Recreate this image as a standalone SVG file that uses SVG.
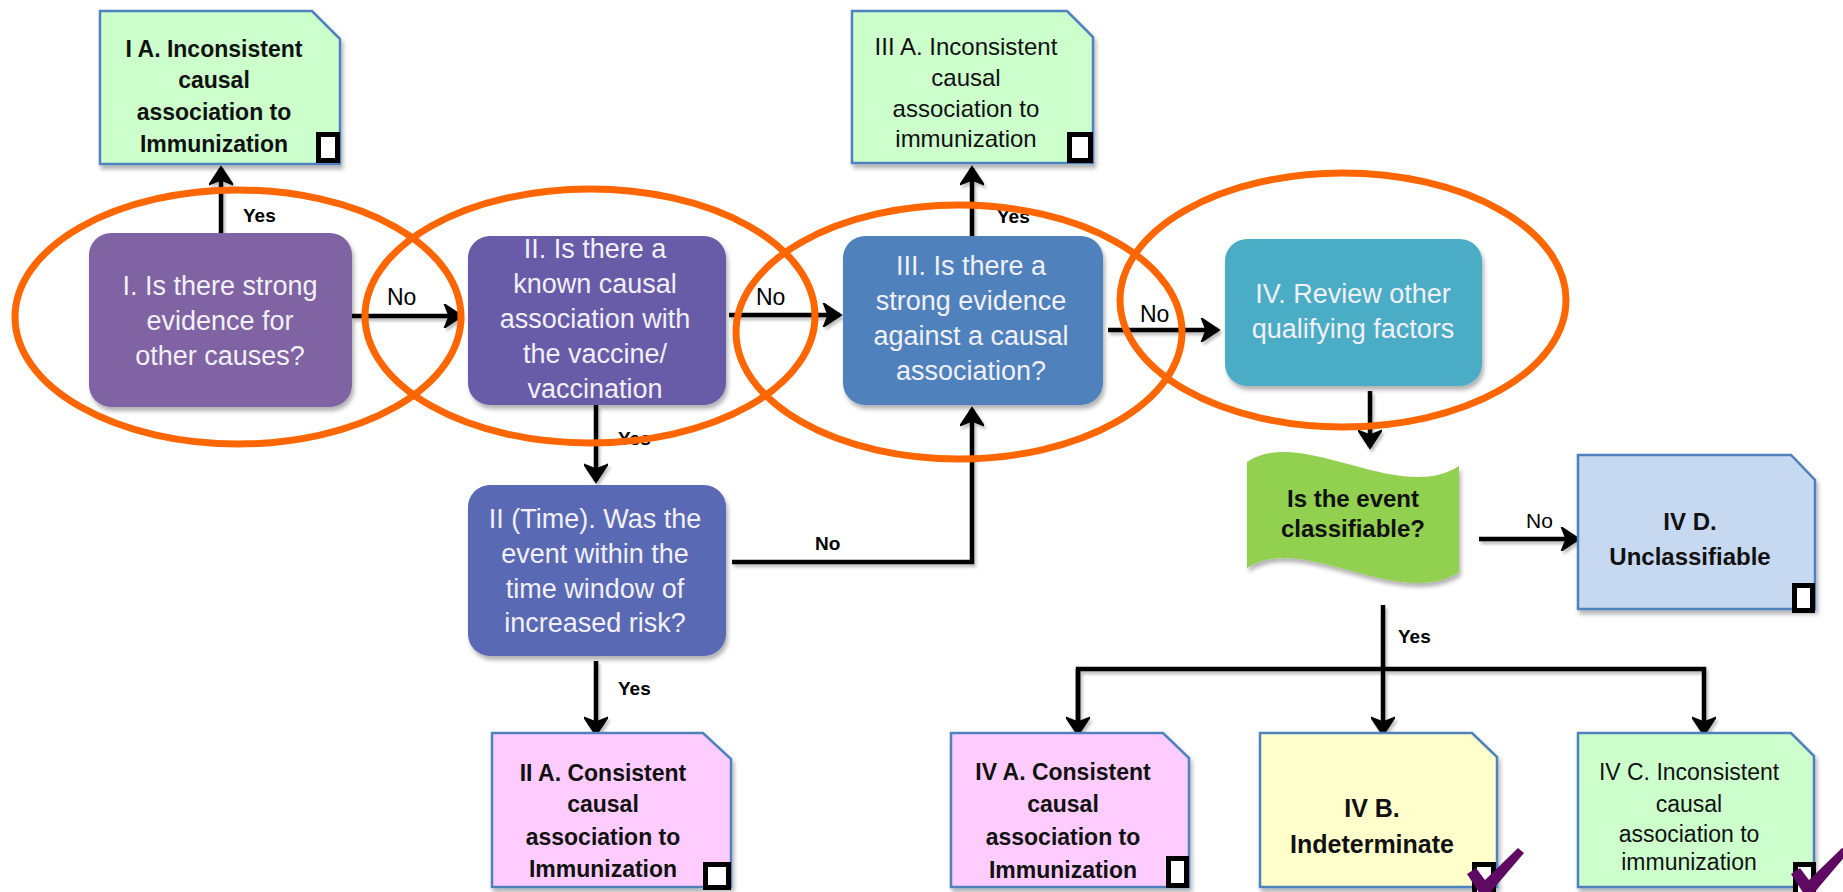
<svg xmlns="http://www.w3.org/2000/svg" width="1843" height="892" viewBox="0 0 1843 892">
  <style>
    .q { font-family: "Liberation Sans", Arial, sans-serif; font-size: 27px; fill: #f1f0f6; text-anchor: middle; }
    .leaf { font-family: "Liberation Sans", Arial, sans-serif; font-size: 23px; font-weight: bold; fill: #111; text-anchor: middle; }
    .leafn { font-family: "Liberation Sans", Arial, sans-serif; font-size: 23px; fill: #111; text-anchor: middle; }
    .lbl { font-family: "Liberation Sans", Arial, sans-serif; font-size: 19px; font-weight: bold; fill: #000; }
    .lno { font-family: "Liberation Sans", Arial, sans-serif; font-size: 23px; fill: #000; }
    .edge { fill: none; stroke: #000; stroke-width: 4.5; }
    .note { stroke: #4F81BD; stroke-width: 2.5; }
    .chk { fill: #fff; stroke: #000; stroke-width: 5; }
    .tick { fill: #5E0A63; }
    .ring { fill: none; stroke: #FF6600; stroke-width: 7; }
  </style>
  <defs>
    <marker id="arr" viewBox="0 0 24 24" markerUnits="userSpaceOnUse" markerWidth="24" markerHeight="24" refX="20" refY="12" orient="auto">
      <path d="M5,2 L20,12 L5,22 L9,12 Z" fill="#000" stroke="#000" stroke-width="3" stroke-linejoin="miter"/>
    </marker>
    <filter id="sh" x="-10%" y="-10%" width="130%" height="130%">
      <feDropShadow dx="2" dy="4" stdDeviation="2" flood-color="#000" flood-opacity="0.3"/>
    </filter>
    <filter id="lsh" x="-5%" y="-5%" width="110%" height="120%">
      <feDropShadow dx="2" dy="3" stdDeviation="1.5" flood-color="#000" flood-opacity="0.25"/>
    </filter>
  </defs>

  <rect width="1843" height="892" fill="#fff"/>

  <!-- connectors -->
  <g id="connectors" filter="url(#lsh)">
    <path class="edge" d="M221,233 V168" marker-end="url(#arr)"/>
    <path class="edge" d="M352,316 H461" marker-end="url(#arr)"/>
    <path class="edge" d="M729,315 H840" marker-end="url(#arr)"/>
    <path class="edge" d="M972,236 V168" marker-end="url(#arr)"/>
    <path class="edge" d="M1108,330 H1218" marker-end="url(#arr)"/>
    <path class="edge" d="M1370,391 V447" marker-end="url(#arr)"/>
    <path class="edge" d="M596,405 V481" marker-end="url(#arr)"/>
    <path class="edge" d="M732,562 H972 V409" marker-end="url(#arr)"/>
    <path class="edge" d="M596,661 V734" marker-end="url(#arr)"/>
    <path class="edge" d="M1479,539 H1578" marker-end="url(#arr)"/>
    <path class="edge" d="M1383,605 V669"/>
    <path class="edge" d="M1078,734 V669 H1704 V734" marker-end="url(#arr)"/>
    <path class="edge" d="M1078,669 V734" marker-end="url(#arr)"/>
    <path class="edge" d="M1383,669 V734" marker-end="url(#arr)"/>
  </g>

  <!-- connector labels -->
  <g id="labels">
    <text class="lbl" x="243" y="222">Yes</text>
    <text class="lno" x="387" y="305">No</text>
    <text class="lno" x="756" y="305">No</text>
    <text class="lbl" x="997" y="223">Yes</text>
    <text class="lno" x="1140" y="322">No</text>
    <text class="lbl" x="618" y="445">Yes</text>
    <text class="lbl" x="815" y="550">No</text>
    <text class="lbl" x="618" y="695">Yes</text>
    <text class="lno" x="1526" y="528" style="font-size:21px">No</text>
    <text class="lbl" x="1398" y="643">Yes</text>
  </g>

  <!-- decision boxes -->
  <g id="q1">
    <rect x="89" y="233" width="263" height="174" rx="22" fill="#8064A2" filter="url(#sh)"/>
    <text class="q" x="220" y="295">I. Is there strong</text>
    <text class="q" x="220" y="330">evidence for</text>
    <text class="q" x="220" y="365">other causes?</text>
  </g>
  <g id="q2">
    <rect x="468" y="236" width="258" height="169" rx="22" fill="#675BA8" filter="url(#sh)"/>
    <text class="q" x="595" y="258">II. Is there a</text>
    <text class="q" x="595" y="293">known causal</text>
    <text class="q" x="595" y="328">association with</text>
    <text class="q" x="595" y="363">the vaccine/</text>
    <text class="q" x="595" y="398">vaccination</text>
  </g>
  <g id="q3">
    <rect x="843" y="236" width="260" height="169" rx="22" fill="#4F81BD" filter="url(#sh)"/>
    <text class="q" x="971" y="275">III. Is there a</text>
    <text class="q" x="971" y="310">strong evidence</text>
    <text class="q" x="971" y="345">against a causal</text>
    <text class="q" x="971" y="380">association?</text>
  </g>
  <g id="q4">
    <rect x="1225" y="239" width="257" height="147" rx="22" fill="#4BACC6" filter="url(#sh)"/>
    <text class="q" x="1353" y="303">IV. Review other</text>
    <text class="q" x="1353" y="338">qualifying factors</text>
  </g>
  <g id="q2time">
    <rect x="468" y="485" width="258" height="171" rx="22" fill="#5A69B4" filter="url(#sh)"/>
    <text class="q" x="595" y="528">II (Time). Was the</text>
    <text class="q" x="595" y="563">event within the</text>
    <text class="q" x="595" y="598">time window of</text>
    <text class="q" x="595" y="632">increased risk?</text>
  </g>
  <g id="classifiable">
    <path d="M1247,462 C1300,425 1400,505 1459,466 V572 C1400,611 1300,531 1247,568 Z" fill="#92D050" filter="url(#sh)"/>
    <text class="leaf" x="1353" y="507" style="font-size:24px">Is the event</text>
    <text class="leaf" x="1353" y="537" style="font-size:24px">classifiable?</text>
  </g>

  <!-- outcome notes -->
  <g id="iA">
    <path class="note" d="M100,11 H312 L340,39 V164 H100 Z" fill="#CCFFCC" filter="url(#sh)"/>
    <text class="leaf" x="214" y="57">I A. Inconsistent</text>
    <text class="leaf" x="214" y="88">causal</text>
    <text class="leaf" x="214" y="120">association to</text>
    <text class="leaf" x="214" y="152">Immunization</text>
    <rect class="chk" x="318.5" y="134.5" width="19" height="26"/>
  </g>
  <g id="iiiA">
    <path class="note" d="M852,11 H1067 L1093,37 V163 H852 Z" fill="#CCFFCC" filter="url(#sh)"/>
    <text class="leafn" x="966" y="55" style="font-size:24px">III A. Inconsistent</text>
    <text class="leafn" x="966" y="86" style="font-size:24px">causal</text>
    <text class="leafn" x="966" y="117" style="font-size:24px">association to</text>
    <text class="leafn" x="966" y="147" style="font-size:24px">immunization</text>
    <rect class="chk" x="1069.5" y="134.5" width="21" height="26"/>
  </g>
  <g id="iiA">
    <path class="note" d="M492,733 H703 L731,759 V887 H492 Z" fill="#FFCCFF" filter="url(#sh)"/>
    <text class="leaf" x="603" y="781">II A. Consistent</text>
    <text class="leaf" x="603" y="812">causal</text>
    <text class="leaf" x="603" y="845">association to</text>
    <text class="leaf" x="603" y="877">Immunization</text>
    <rect class="chk" x="705.5" y="864.5" width="23" height="23"/>
  </g>
  <g id="ivD">
    <path class="note" d="M1578,455 H1791 L1815,480 V609 H1578 Z" fill="#C6D9F1" filter="url(#sh)"/>
    <text class="leaf" x="1690" y="530" style="font-size:24px">IV D.</text>
    <text class="leaf" x="1690" y="565" style="font-size:24px">Unclassifiable</text>
    <rect class="chk" x="1794.5" y="585.5" width="18" height="25"/>
  </g>
  <g id="ivA">
    <path class="note" d="M951,733 H1163 L1189,758 V887 H951 Z" fill="#FFCCFF" filter="url(#sh)"/>
    <text class="leaf" x="1063" y="780">IV A. Consistent</text>
    <text class="leaf" x="1063" y="812">causal</text>
    <text class="leaf" x="1063" y="845">association to</text>
    <text class="leaf" x="1063" y="878">Immunization</text>
    <rect class="chk" x="1168.5" y="858.5" width="18" height="27"/>
  </g>
  <g id="ivB">
    <path class="note" d="M1260,733 H1472 L1497,757 V887 H1260 Z" fill="#FFFFCC" filter="url(#sh)"/>
    <text class="leaf" x="1372" y="817" style="font-size:25px">IV B.</text>
    <text class="leaf" x="1372" y="853" style="font-size:25px">Indeterminate</text>
    <rect class="chk" x="1474.5" y="864.5" width="19" height="30"/>
    <path class="tick" d="M1467,874 L1476,868 L1485,880 L1518,848 L1524,853 L1489,894 L1480,894 Z"/>
  </g>
  <g id="ivC">
    <path class="note" d="M1578,733 H1791 L1814,756 V887 H1578 Z" fill="#CCFFCC" filter="url(#sh)"/>
    <text class="leafn" x="1689" y="780">IV C. Inconsistent</text>
    <text class="leafn" x="1689" y="812">causal</text>
    <text class="leafn" x="1689" y="842">association to</text>
    <text class="leafn" x="1689" y="870">immunization</text>
    <rect class="chk" x="1795.5" y="864.5" width="18" height="30"/>
    <path class="tick" d="M1791,874 L1800,868 L1809,880 L1842,848 L1848,853 L1813,894 L1804,894 Z"/>
  </g>

  <!-- highlight rings drawn over the chart -->
  <g id="rings">
    <ellipse class="ring" cx="238" cy="317" rx="223" ry="127"/>
    <ellipse class="ring" cx="590" cy="316" rx="225" ry="127"/>
    <ellipse class="ring" cx="959" cy="332" rx="223" ry="127"/>
    <ellipse class="ring" cx="1343" cy="300" rx="223" ry="127"/>
  </g>
</svg>
